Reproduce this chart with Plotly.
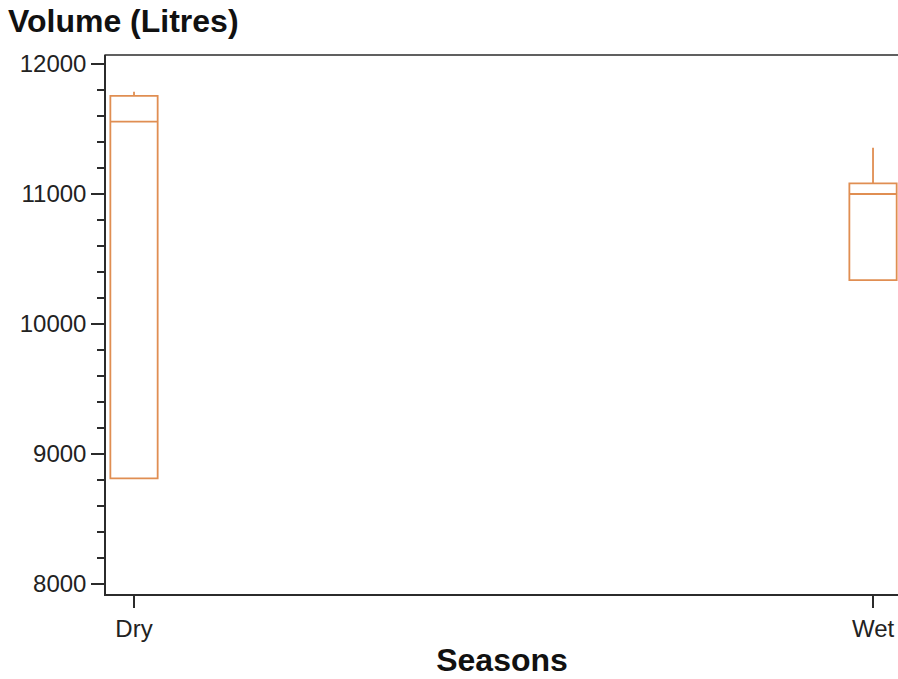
import plotly.graph_objects as go

# Seasonal volume summaries (litres)
seasons = ["Dry", "Wet"]
q1 = [8813, 10338]
median = [11556, 11000]
q3 = [11754, 11082]
lower_fence = [8813, 10338]
upper_fence = [11787, 11356]

y_ticks = [8000, 9000, 10000, 11000, 12000]

box_color = "#E08E52"
axis_color = "#2b2b2b"
font_family = "Liberation Sans, Arial, sans-serif"

fig = go.Figure()
fig.add_trace(go.Box(
    x=seasons,
    q1=q1,
    median=median,
    q3=q3,
    lowerfence=lower_fence,
    upperfence=upper_fence,
    width=0.064,
    whiskerwidth=0,
    line=dict(color=box_color, width=1.8),
    fillcolor="rgba(0,0,0,0)",
    boxpoints=False,
    hoverinfo="skip",
    showlegend=False,
))

fig.update_layout(
    width=898,
    height=679,
    margin=dict(l=106, r=0, t=55, b=85),
    paper_bgcolor="white",
    plot_bgcolor="white",
    font=dict(family=font_family, color="#222222"),
    title=dict(
        text="<b>Volume (Litres)</b>",
        font=dict(size=32, color="#111111"),
        x=8 / 898,
        xanchor="left",
        xref="container",
        y=1 - 10 / 679,
        yanchor="top",
        yref="container",
    ),
    # top frame line of the plotting area (open on the right)
    shapes=[dict(
        type="line", xref="paper", yref="paper",
        x0=-0.002, x1=1.05, y0=1, y1=1,
        line=dict(color=axis_color, width=1.5),
    )],
)

fig.update_xaxes(
    type="category",
    range=[-0.0379, 1.0338],
    showline=True,
    linecolor=axis_color,
    linewidth=1.5,
    mirror=False,
    ticks="outside",
    ticklen=12,
    tickwidth=1.5,
    tickcolor=axis_color,
    tickfont=dict(size=24),
    showgrid=False,
    zeroline=False,
    title=dict(text="<b>Seasons</b>", font=dict(size=32, color="#111111"), standoff=8),
)

fig.update_yaxes(
    range=[7923, 12069],
    tickvals=y_ticks,
    ticktext=[str(v) for v in y_ticks],
    showline=True,
    linecolor=axis_color,
    linewidth=1.5,
    mirror=False,
    ticks="outside",
    ticklen=13,
    tickwidth=1.5,
    tickcolor=axis_color,
    tickfont=dict(size=24),
    minor=dict(dtick=200, tick0=8000, ticks="outside", ticklen=7, tickwidth=1.5, tickcolor=axis_color),
    showgrid=False,
    zeroline=False,
)

fig.write_html("out.html")
